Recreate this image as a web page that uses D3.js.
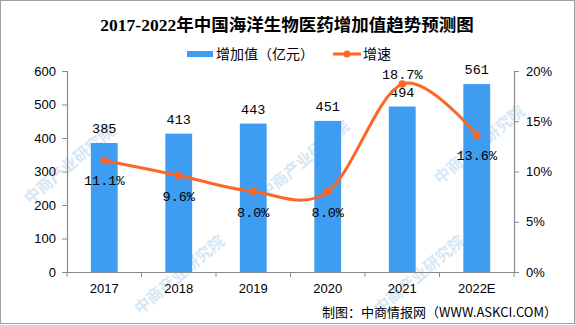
<!DOCTYPE html>
<html><head><meta charset="utf-8">
<script src="https://cdn.jsdelivr.net/npm/d3@7"></script>
<style>body{margin:0;background:#fff}svg{display:block}</style>
</head><body>
<svg id="c" width="575" height="325"></svg>
<script>
const categories = ["2017","2018","2019","2020","2021","2022E"];
const addedValue = [385, 413, 443, 451, 494, 561];
const growthRate = [11.1, 9.6, 8.0, 8.0, 18.7, 13.6];
const leftTicks = [0,100,200,300,400,500,600];
const rightTicks = [0,5,10,15,20];
const title = "2017-2022年中国海洋生物医药增加值趋势预测图";
const legendLabels = ["增加值（亿元）","增速"];
const source = "制图：中商情报网（WWW.ASKCI.COM）";
const watermark = "中商产业研究院";

const W=575,H=325;
const m={l:67,r:514,t:71,b:272};
const svg=d3.select("#c");
const blue="#3E9CF1", orange="#FF6524", axisC="#8c8c8c";
const numFont="'Liberation Mono', monospace";
const cjk="'Noto Sans CJK SC', sans-serif";

svg.append("rect").attr("x",0.5).attr("y",0.5).attr("width",W-1).attr("height",H-2)
  .attr("fill","#fff").attr("stroke","#a0a0a0");

// watermark
const wm=svg.append("g").attr("fill","#d6e7f6")
  .style("font-family",cjk).style("font-size","16px").style("font-weight","bold");
[[30,205],[265,200],[140,315],[380,315],[440,185]].forEach(p=>{
  wm.append("text").attr("transform",`translate(${p[0]},${p[1]}) rotate(-40)`).text(watermark);
});

const x=d3.scaleBand().domain(categories).range([m.l,m.r]).padding(0);
const y=d3.scaleLinear().domain([0,600]).range([m.b,m.t]);
const y2=d3.scaleLinear().domain([0,20]).range([m.b,m.t]);
const bw=x.bandwidth()*0.36;

// bars
svg.append("g").selectAll("rect").data(addedValue).join("rect")
  .attr("x",(d,i)=>x(categories[i])+x.bandwidth()/2-bw/2)
  .attr("y",d=>y(d)).attr("width",bw).attr("height",d=>y(0)-y(d)).attr("fill",blue);

// axes
const axL=svg.append("g").attr("transform",`translate(${m.l},0)`)
  .call(d3.axisLeft(y).tickValues(leftTicks).tickSize(5).tickPadding(6));
const axR=svg.append("g").attr("transform",`translate(${m.r},0)`)
  .call(d3.axisRight(y2).tickValues(rightTicks).tickSize(5).tickPadding(7).tickFormat(d=>d+"%"));
const axB=svg.append("g").attr("transform",`translate(0,${m.b})`)
  .call(d3.axisBottom(x).tickSize(0).tickPadding(12));
[axL,axR,axB].forEach(a=>{
  a.select(".domain").attr("stroke",axisC).attr("stroke-width",1.2);
  a.selectAll(".tick line").attr("stroke",axisC);
  a.selectAll("text").attr("fill","#000").style("font-family","'Liberation Sans', sans-serif").style("font-size","13px");
});
const bounds=categories.map(c=>x(c)).concat([m.r]);
axB.selectAll("line.bt").data(bounds).join("line").attr("class","bt")
  .attr("x1",d=>d).attr("x2",d=>d).attr("y1",0).attr("y2",5).attr("stroke",axisC);

// bar labels
svg.append("g").selectAll("text").data(addedValue).join("text")
  .attr("x",(d,i)=>x(categories[i])+x.bandwidth()/2).attr("y",d=>y(d)-10)
  .attr("text-anchor","middle").style("font-family",numFont).style("font-size","13.5px")
  .text(d=>d);

// line
const cx=(i)=>x(categories[i])+x.bandwidth()/2;
const line=d3.line().x((d,i)=>cx(i)).y(d=>y2(d)).curve(d3.curveCardinal.tension(0));
svg.append("path").datum(growthRate).attr("d",line).attr("fill","none")
  .attr("stroke",orange).attr("stroke-width",3);
svg.append("g").selectAll("circle").data(growthRate).join("circle")
  .attr("cx",(d,i)=>cx(i)).attr("cy",d=>y2(d)).attr("r",3.8).attr("fill",orange);
const maxG=d3.max(growthRate);
svg.append("g").selectAll("text").data(growthRate).join("text")
  .attr("x",(d,i)=>cx(i)).attr("y",d=>d===maxG? y2(d)-5 : y2(d)+25)
  .attr("text-anchor","middle").style("font-family",numFont).style("font-size","13.5px")
  .text(d=>d.toFixed(1)+"%");

// title
svg.append("text").attr("x",287).attr("y",31).attr("text-anchor","middle")
  .style("font-family","'Liberation Serif','Noto Sans CJK SC',serif").style("font-weight","bold").style("font-size","17.5px")
  .text(title);

// legend
const lg=svg.append("g");
lg.append("rect").attr("x",187).attr("y",51).attr("width",26).attr("height",6).attr("fill",blue);
lg.append("text").attr("x",216).attr("y",59).style("font-family",cjk).style("font-size","14px").text(legendLabels[0]);
lg.append("line").attr("x1",333).attr("x2",361).attr("y1",54).attr("y2",54).attr("stroke",orange).attr("stroke-width",3);
lg.append("circle").attr("cx",347).attr("cy",54).attr("r",3.5).attr("fill",orange);
lg.append("text").attr("x",363).attr("y",59).style("font-family",cjk).style("font-size","14px").text(legendLabels[1]);

// source
svg.append("text").attr("x",557).attr("y",317).attr("text-anchor","end")
  .style("font-family",cjk).style("font-size","13px").text(source);
</script>
</body></html>
